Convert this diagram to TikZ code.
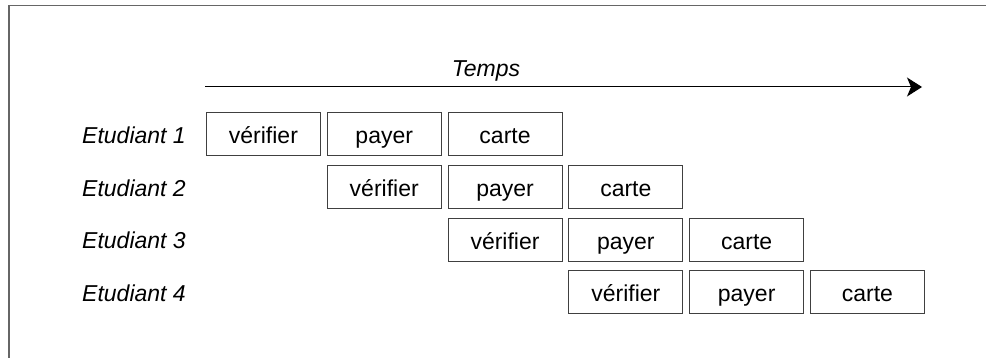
\documentclass[tikz,border=0pt]{standalone}
\usepackage{fontspec}
\setmainfont{Liberation Sans}
\usetikzlibrary{arrows.meta}

\begin{document}
\begin{tikzpicture}[x=1pt, y=-1pt, >={Stealth[length=15pt,width=19pt,inset=4pt]},
  font=\fontsize{23}{27}\selectfont,
  tache/.style={draw=black!75, line width=0.9pt, inner sep=0pt, anchor=north west,
    minimum width=114pt, minimum height=43pt, text height=20pt, text depth=1pt},
  etiq/.style={anchor=base west, inner sep=0pt, font=\fontsize{23}{27}\selectfont\itshape}]

  % Parameters
  \def\colX{206}      % left of first column
  \def\colD{120.8}    % column pitch
  \def\rowY{112}      % top of first row
  \def\rowD{52.8}     % row pitch

  \useasboundingbox (0,0) rectangle (986,358);

  % Frame (only top and left edges show)
  \draw[black!60, line width=1.6pt] (9,358) -- (9,5.5) -- (986,5.5);

  % Time axis
  \coordinate (tstart) at (205,87);
  \coordinate (tend) at (922,87);
  \draw[->, line width=1pt] (tstart) -- (tend);
  \node[anchor=base, inner sep=0pt, font=\fontsize{23}{27}\selectfont\itshape] (temps) at (486,76.5) {Temps};

  % One row per student, the three steps shifted by one column
  \foreach \i in {1,...,4} {
    \node[etiq] (etu\i) at (82,{\rowY+(\i-1)*\rowD+31.3}) {Etudiant \i};
    \node[tache] (verif\i) at ({\colX+(\i-1)*\colD},{\rowY+(\i-1)*\rowD}) {vérifier};
    \node[tache] (payer\i) at ({\colX+\i*\colD},{\rowY+(\i-1)*\rowD}) {payer};
    \node[tache] (carte\i) at ({\colX+(\i+1)*\colD},{\rowY+(\i-1)*\rowD}) {carte};
  }

\end{tikzpicture}
\end{document}
